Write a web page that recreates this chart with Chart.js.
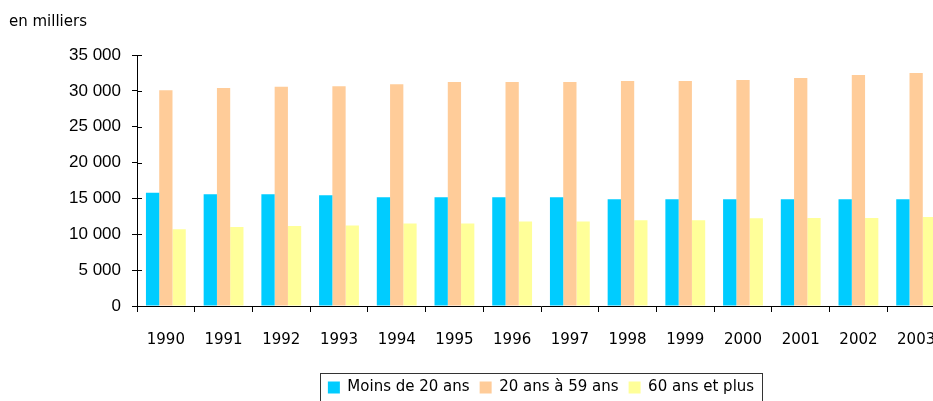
<!DOCTYPE html>
<html>
<head>
<meta charset="utf-8">
<script src="https://cdn.jsdelivr.net/npm/chart.js@4.4.0/dist/chart.umd.min.js"></script>
<style>
  html, body { margin: 0; padding: 0; background: #fff; overflow: hidden; }
  #wrap { width: 960px; height: 410px; }
</style>
</head>
<body>
<div id="wrap"><canvas id="popChart" width="960" height="410"></canvas></div>
<script>
// population par tranche d'age, en milliers
const years = ['1990', '1991', '1992', '1993', '1994', '1995', '1996', '1997', '1998', '1999', '2000', '2001', '2002', '2003'];
const moins20 = [15780, 15600, 15600, 15430, 15150, 15150, 15150, 15150, 14870, 14870, 14870, 14870, 14870, 14870];
const de20a59 = [30100, 30400, 30590, 30650, 30930, 31220, 31220, 31220, 31360, 31360, 31500, 31780, 32200, 32480];
const plus60 = [10700, 11000, 11170, 11240, 11520, 11520, 11800, 11800, 11940, 11940, 12220, 12260, 12260, 12400];
const seriesNames = ['Moins de 20 ans', '20 ans à 59 ans', '60 ans et plus'];
const unitLabel = 'en milliers';

const comic = "'Comic Sans MS', 'DejaVu Sans', sans-serif";
const arial = "'Liberation Sans', Arial, sans-serif";

// y tick marks cross the axis, and a frame goes round the legend
const extras = {
  id: 'extras',
  afterDraw(chart) {
    const ctx = chart.ctx;
    const y = chart.scales.y;
    ctx.save();
    ctx.strokeStyle = '#000';
    ctx.lineWidth = 1;
    y.ticks.forEach(t => {
      const py = Math.round(y.getPixelForValue(t.value)) + 0.5;
      ctx.beginPath();
      ctx.moveTo(y.right, py);
      ctx.lineTo(y.right + 5, py);
      ctx.stroke();
    });
    const boxes = chart.legend.legendHitBoxes;
    if (boxes && boxes.length) {
      const l = boxes[0].left - 8;
      const last = boxes[boxes.length - 1];
      const r = last.left + last.width + 8;
      const t = chart.legend.top + 3;
      ctx.strokeStyle = '#333';
      ctx.strokeRect(Math.round(l) + 0.5, Math.round(t) + 0.5, Math.round(r - l), 40);
    }
    ctx.fillStyle = '#000';
    ctx.font = '15px ' + comic;
    ctx.textBaseline = 'middle';
    ctx.fillText(unitLabel, 9, 22);
    ctx.restore();
  }
};

new Chart(document.getElementById('popChart').getContext('2d'), {
  type: 'bar',
  data: {
    labels: years,
    datasets: [
      { label: seriesNames[0], data: moins20, backgroundColor: '#00CCFF', borderWidth: 0 },
      { label: seriesNames[1], data: de20a59, backgroundColor: '#FFCC99', borderWidth: 0 },
      { label: seriesNames[2], data: plus60, backgroundColor: '#FFFF99', borderWidth: 0 },
    ],
  },
  options: {
    responsive: false,
    animation: false,
    datasets: { bar: { categoryPercentage: 0.69, barPercentage: 1.0 } },
    layout: { padding: { top: 55, right: 15, bottom: 5, left: 0 } },
    scales: {
      x: {
        grid: { drawOnChartArea: false, tickLength: 6, color: '#000' },
        border: { color: '#000', width: 1 },
        ticks: { color: '#000', font: { family: comic, size: 15 }, padding: 19, maxRotation: 0 },
        afterFit: (scale) => { scale.height = 64; },
      },
      y: {
        min: 0,
        max: 35000,
        grid: { drawOnChartArea: false, tickLength: 5, color: '#000' },
        border: { color: '#000', width: 1 },
        ticks: {
          stepSize: 5000,
          color: '#000',
          padding: 11,
          font: { family: arial, size: 17 },
          callback: (v) => String(v).replace(/\B(?=(\d{3})+(?!\d))/g, ' '),
        },
        afterFit: (scale) => { scale.width = 137; },
      },
    },
    plugins: {
      legend: {
        position: 'bottom',
        fullSize: false,
        labels: {
          color: '#000',
          boxWidth: 12,
          boxHeight: 12,
          padding: 10,
          font: { family: comic, size: 15 },
        },
      },
      tooltip: { enabled: false },
    },
  },
  plugins: [extras],
});
</script>
</body>
</html>
